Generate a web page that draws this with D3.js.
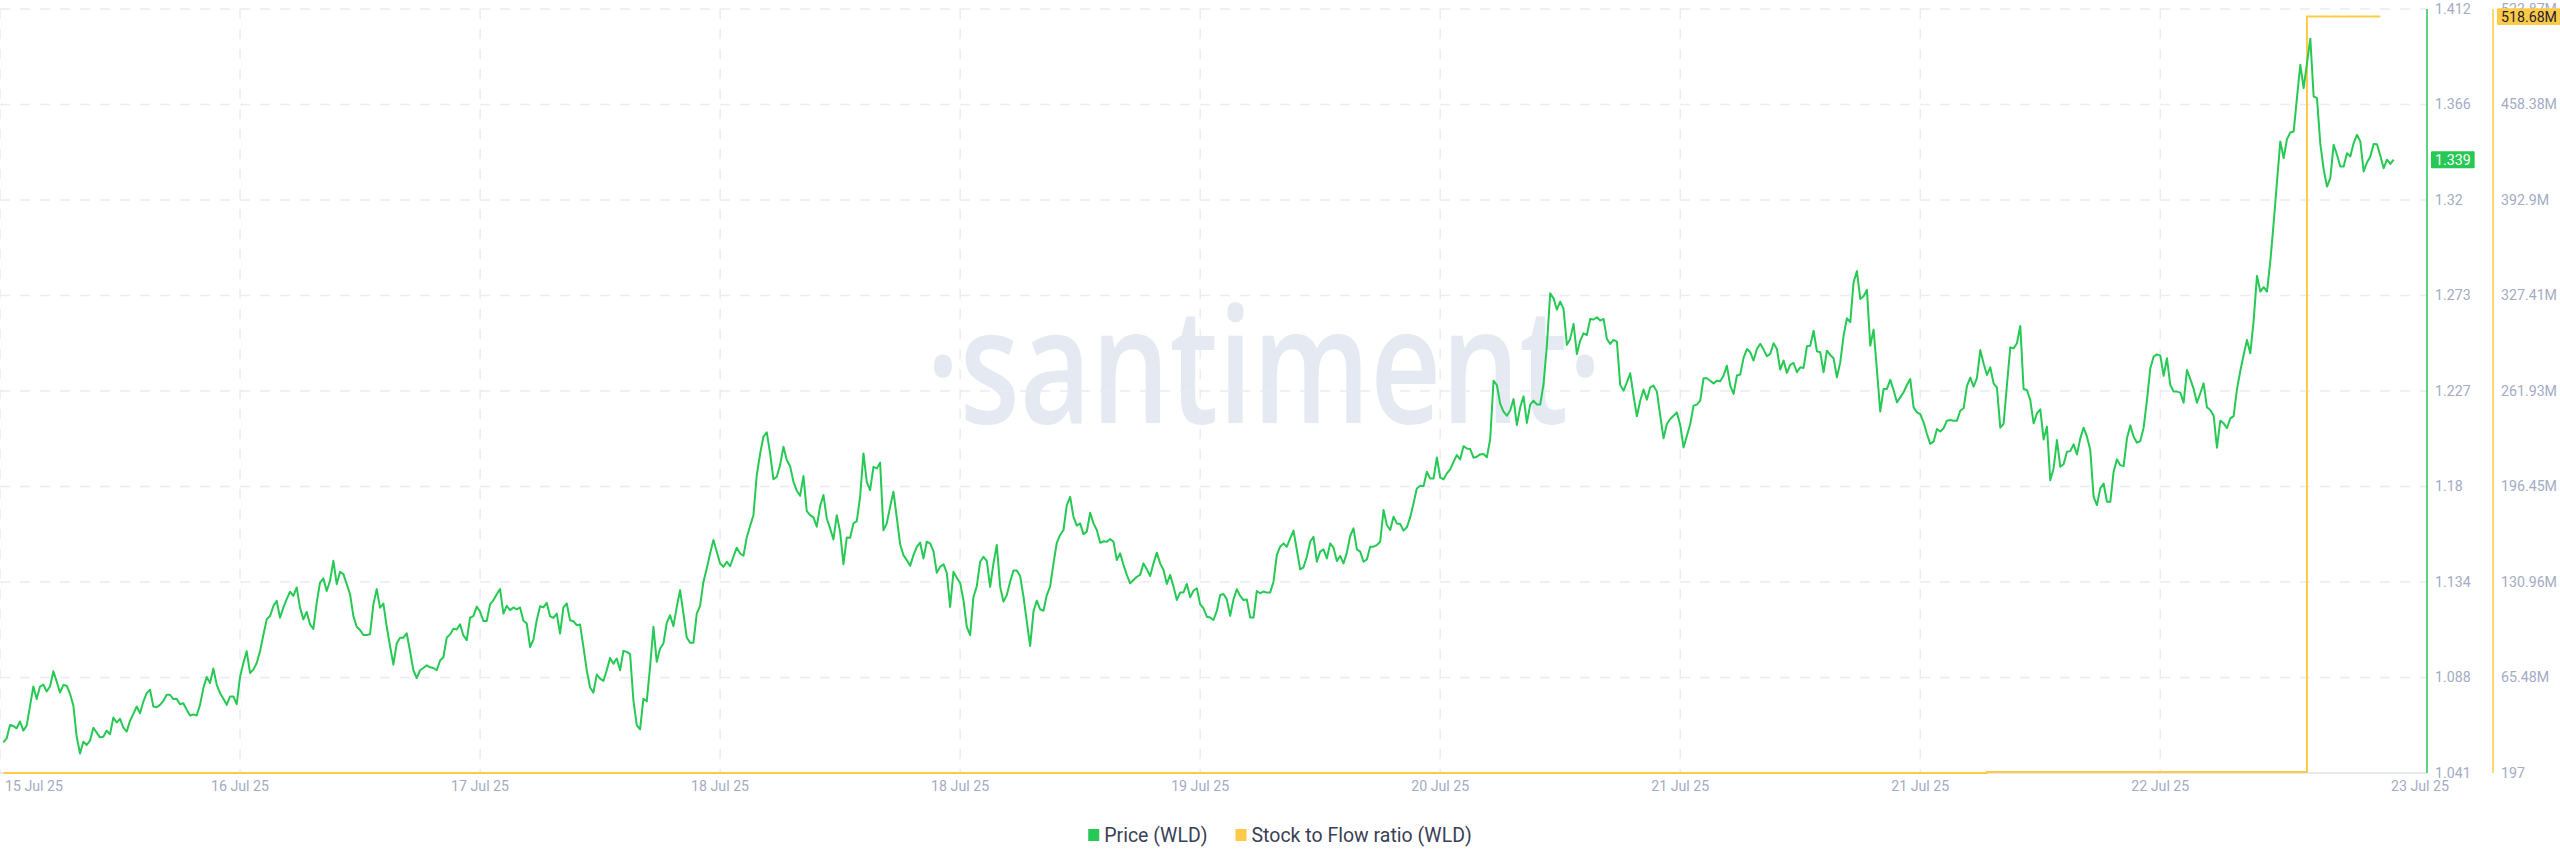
<!DOCTYPE html>
<html><head><meta charset="utf-8">
<script src="https://cdn.jsdelivr.net/npm/d3@7"></script>
<style>
html,body{margin:0;padding:0;background:#fff;overflow:hidden;}
svg{display:block;}
</style></head>
<body><svg id="chart" width="2560" height="867"></svg>
<script>
// ---------------- DATA ----------------
const priceStart = "2025-07-15T19:15:00Z";
const priceStepMinutes = 15;
const priceValues = [
1.0559,1.0578,1.0643,1.0638,1.0627,1.0660,1.0616,1.0640,1.0735,1.0830,
1.0769,1.0830,1.0839,1.0806,1.0830,1.0904,1.0855,1.0801,1.0837,1.0834,
1.0795,1.0738,1.0586,1.0505,1.0562,1.0546,1.0567,1.0630,1.0606,1.0583,
1.0586,1.0616,1.0598,1.0679,1.0655,1.0673,1.0630,1.0611,1.0663,1.0697,
1.0733,1.0700,1.0757,1.0798,1.0814,1.0733,1.0729,1.0741,1.0760,1.0790,
1.0790,1.0769,1.0770,1.0744,1.0749,1.0717,1.0689,1.0694,1.0689,1.0741,
1.0822,1.0876,1.0847,1.0917,1.0839,1.0798,1.0770,1.0741,1.0782,1.0782,
1.0744,1.0876,1.0944,1.1001,1.0896,1.0912,1.0944,1.1001,1.1080,1.1156,
1.1172,1.1221,1.1246,1.1164,1.1213,1.1254,1.1290,1.1270,1.1311,1.1213,
1.1156,1.1192,1.1132,1.1110,1.1237,1.1335,1.1355,1.1294,1.1343,1.1441,
1.1327,1.1387,1.1376,1.1327,1.1278,1.1172,1.1120,1.1104,1.1080,1.1080,
1.1084,1.1229,1.1303,1.1213,1.1233,1.1120,1.1026,1.0936,1.1039,1.1067,
1.1067,1.1088,1.1001,1.0909,1.0871,1.0909,1.0920,1.0933,1.0923,1.0920,
1.0909,1.0956,1.0972,1.1067,1.1083,1.1110,1.1107,1.1132,1.1078,1.1055,
1.1164,1.1172,1.1218,1.1194,1.1148,1.1148,1.1229,1.1249,1.1278,1.1303,
1.1184,1.1222,1.1201,1.1214,1.1205,1.1214,1.1149,1.1136,1.1022,1.1058,
1.1152,1.1220,1.1214,1.1236,1.1171,1.1163,1.1184,1.1087,1.1214,1.1233,
1.1152,1.1147,1.1128,1.1131,1.1022,1.0909,1.0825,1.0800,1.0888,1.0868,
1.0857,1.0909,1.0969,1.0941,1.0966,1.0909,1.1003,1.0998,1.0987,1.0763,
1.0642,1.0622,1.0771,1.0758,1.0925,1.1120,1.0950,1.1014,1.1039,1.1139,
1.1176,1.1123,1.1217,1.1298,1.1184,1.1068,1.1043,1.1043,1.1184,1.1222,
1.1338,1.1403,1.1476,1.1541,1.1484,1.1427,1.1411,1.1436,1.1414,1.1460,
1.1504,1.1476,1.1465,1.1554,1.1609,1.1662,1.1857,1.1960,1.2043,1.2064,
1.1962,1.1836,1.1849,1.1905,1.1994,1.1930,1.1900,1.1824,1.1781,1.1756,
1.1852,1.1682,1.1662,1.1651,1.1606,1.1706,1.1760,1.1646,1.1598,1.1544,
1.1662,1.1581,1.1424,1.1554,1.1552,1.1622,1.1633,1.1751,1.1962,1.1824,
1.1784,1.1897,1.1889,1.1917,1.1589,1.1622,1.1703,1.1776,1.1650,1.1521,
1.1468,1.1444,1.1416,1.1468,1.1508,1.1529,1.1452,1.1533,1.1525,1.1487,
1.1382,1.1411,1.1424,1.1382,1.1217,1.1387,1.1358,1.1333,1.1249,1.1120,
1.1079,1.1265,1.1317,1.1436,1.1460,1.1440,1.1314,
1.1428,1.1517,1.1315,1.1242,1.1274,1.1339,1.1393,1.1393,1.1367,1.1266,
1.1145,1.1027,1.1194,1.1247,1.1205,1.1198,1.1274,1.1315,1.1428,1.1528,
1.1566,1.1590,1.1711,1.1751,1.1654,1.1611,1.1622,1.1570,1.1582,1.1674,
1.1622,1.1590,1.1528,1.1535,1.1533,1.1546,1.1533,1.1444,1.1477,1.1420,
1.1372,1.1331,1.1347,1.1363,1.1372,1.1428,1.1399,1.1367,1.1428,1.1480,
1.1428,1.1396,1.1328,1.1372,1.1315,1.1250,1.1286,1.1287,1.1328,1.1263,
1.1295,1.1307,1.1229,1.1210,1.1169,1.1165,1.1153,1.1197,1.1274,1.1279,
1.1253,1.1173,1.1253,1.1302,1.1270,1.1250,1.1253,1.1165,1.1165,1.1294,
1.1283,1.1291,1.1286,1.1287,1.1339,1.1469,1.1509,1.1525,1.1509,1.1549,
1.1587,1.1493,1.1399,1.1409,1.1460,1.1533,1.1557,1.1436,1.1485,1.1496,
1.1452,1.1525,1.1504,1.1439,1.1464,1.1428,1.1480,1.1561,1.1598,1.1496,
1.1485,1.1436,1.1447,1.1509,1.1509,1.1517,1.1533,1.1687,1.1614,1.1590,
1.1654,1.1622,1.1619,1.1587,1.1603,1.1651,1.1720,1.1792,1.1805,1.1803,
1.1873,1.1840,1.1840,1.1942,1.1845,1.1836,1.1865,1.1884,1.1921,1.1954,
1.1933,1.1997,1.1986,1.1983,1.1941,1.1946,1.1957,
1.1959,1.1943,1.2032,1.2315,1.2294,1.2202,1.2165,1.2145,1.2170,1.2226,
1.2100,1.2186,1.2239,1.2110,1.2199,1.2218,1.2199,1.2199,1.2299,1.2485,
1.2740,1.2715,1.2660,1.2699,1.2664,1.2489,1.2518,1.2591,1.2445,1.2510,
1.2545,1.2537,1.2615,1.2612,1.2623,1.2607,1.2615,1.2518,1.2494,1.2513,
1.2505,1.2294,1.2267,1.2307,1.2351,1.2242,1.2142,1.2218,1.2272,1.2223,
1.2283,1.2291,1.2262,1.2145,1.2035,1.2105,1.2129,1.2145,1.2161,1.2100,
1.1991,1.2048,1.2105,1.2194,1.2199,1.2218,1.2327,1.2327,1.2315,1.2302,
1.2315,1.2312,1.2340,1.2388,1.2291,1.2251,1.2340,1.2345,1.2426,1.2469,
1.2453,1.2413,1.2469,1.2494,1.2466,1.2434,1.2445,1.2497,1.2469,1.2369,
1.2413,1.2353,1.2392,1.2401,1.2356,1.2380,1.2377,1.2482,1.2485,1.2558,
1.2458,1.2453,1.2356,1.2461,1.2440,1.2424,1.2332,1.2404,1.2534,1.2618,
1.2599,1.2793,1.2847,1.2712,1.2725,1.2756,1.2485,1.2563,1.2367,1.2165,
1.2275,1.2275,1.2319,1.2270,1.2210,1.2234,1.2259,1.2294,1.2323,1.2186,
1.2161,1.2153,1.2113,1.2056,1.2008,1.2019,1.2080,1.2068,1.2084,1.2121,
1.2124,
1.2121,1.2121,1.2169,1.2181,1.2289,1.2330,1.2286,1.2327,1.2464,1.2399,
1.2343,1.2380,1.2302,1.2281,1.2087,1.2105,1.2294,1.2477,1.2472,1.2497,
1.2581,1.2275,1.2270,1.2221,1.2108,1.2156,1.2176,1.2030,1.2092,1.1832,
1.1889,1.2027,1.1897,1.1909,1.1970,1.1973,1.2006,1.1957,1.2035,1.2087,
1.2043,1.1978,1.1751,1.1711,1.1792,1.1816,1.1727,1.1727,1.1873,1.1933,
1.1905,1.1900,1.2035,1.2098,1.2043,1.2014,1.2022,1.2087,1.2221,1.2375,
1.2432,1.2443,1.2437,1.2339,1.2424,1.2294,1.2262,1.2262,1.2257,1.2208,
1.2367,1.2323,1.2275,1.2208,1.2254,1.2302,1.2186,1.2173,1.2145,1.1990,
1.2121,1.2108,1.2084,1.2132,1.2143,1.2273,1.2362,1.2440,1.2513,1.2448,
1.2607,1.2824,1.2748,1.2769,1.2748,1.2894,1.3080,1.3280,1.3477,1.3396,
1.3488,1.3520,1.3525,1.3690,1.3849,1.3736,1.3857,1.3976,1.3695,1.3687,
1.3465,1.3342,1.3258,1.3299,1.3461,1.3412,1.3355,1.3355,1.3420,1.3404,
1.3469,1.3509,1.3477,1.3331,1.3375,1.3404,1.3465,1.3463,1.3407,1.3347,
1.3388,1.3368,1.3388
];

const sfDates = ["2025-07-15T19:15:00Z","2025-07-16T00:00:00Z","2025-07-17T00:00:00Z","2025-07-18T00:00:00Z",
  "2025-07-19T00:00:00Z","2025-07-20T00:00:00Z","2025-07-21T00:00:00Z","2025-07-22T00:00:00Z",
  "2025-07-23T00:00:00Z","2025-07-23T05:30:00Z"];
const sfValues = [197,197,197,197,197,197,197,700000,518680000,518680000];

const xDomain = ["2025-07-15T19:00:00Z","2025-07-23T09:00:00Z"];
const xTickDates = ["2025-07-15T19:00:00Z","2025-07-16T13:00:00Z","2025-07-17T07:00:00Z","2025-07-18T01:00:00Z",
  "2025-07-18T19:00:00Z","2025-07-19T13:00:00Z","2025-07-20T07:00:00Z","2025-07-21T01:00:00Z",
  "2025-07-21T19:00:00Z","2025-07-22T13:00:00Z","2025-07-23T09:00:00Z"];
const xTickLabels = ["15 Jul 25","16 Jul 25","17 Jul 25","18 Jul 25","18 Jul 25","19 Jul 25",
  "20 Jul 25","21 Jul 25","21 Jul 25","22 Jul 25","23 Jul 25"];

const priceDomain = [1.041, 1.412];
const priceTickLabels = ["1.041","1.088","1.134","1.18","1.227","1.273","1.32","1.366","1.412"];
const sfDomain = [197, 523866000];
const sfTickLabels = ["197","65.48M","130.96M","196.45M","261.93M","327.41M","392.9M","458.38M","523.87M"];

const seriesNames = ["Price (WLD)", "Stock to Flow ratio (WLD)"];
const seriesColors = ["#26c953", "#ffcb47"];
const lastPriceLabel = "1.339";
const lastSfLabel = "518.68M";

// ---------------- LAYOUT ----------------
const plot = {left: 0, right: 2427, top: 9, bottom: 773};
const sfAxisX = 2493;
const axisFont = "Roboto, 'Noto Sans', sans-serif";
const labelColor = "#a3abc4";
const gridColor = "#e9ecf4";
const axisFontSize = 14.2;

const parse = d3.isoParse;
const t0 = parse(priceStart);
const priceData = priceValues.map((v, i) => ({t: new Date(+t0 + i * priceStepMinutes * 60000), v}));
const sfData = sfDates.map((d, i) => ({t: parse(d), v: sfValues[i]}));

const x = d3.scaleUtc().domain(xDomain.map(parse)).range([plot.left, plot.right]);
const yP = d3.scaleLinear().domain(priceDomain).range([plot.bottom, plot.top]);
const yS = d3.scaleLinear().domain(sfDomain).range([plot.bottom, plot.top]);

const svg = d3.select("#chart");

// watermark
svg.append("text")
  .attr("x", 926).attr("y", 423)
  .attr("textLength", 676).attr("lengthAdjust", "spacingAndGlyphs")
  .attr("font-family", "'Open Sans', sans-serif").attr("font-size", 162).attr("font-weight", 600)
  .attr("fill", "#e5e9f2")
  .text("·santiment·");

// gridlines
const nT = priceTickLabels.length;
const pTickVals = d3.range(nT).map(k => priceDomain[0] + k * (priceDomain[1] - priceDomain[0]) / (nT - 1));
const sTickVals = d3.range(nT).map(k => sfDomain[0] + k * (sfDomain[1] - sfDomain[0]) / (nT - 1));

const grid = svg.append("g");
grid.selectAll("line.h").data(pTickVals.slice(1)).join("line")
  .attr("class", "h")
  .attr("x1", plot.left).attr("x2", plot.right)
  .attr("y1", d => yP(d)).attr("y2", d => yP(d))
  .attr("stroke", gridColor).attr("stroke-width", 1.5).attr("stroke-dasharray", "10,10");
const xTicks = xTickDates.map(parse);
grid.selectAll("line.v").data(xTicks.filter(d => x(d) < plot.right - 5)).join("line")
  .attr("class", "v")
  .attr("x1", d => x(d)).attr("x2", d => x(d))
  .attr("y1", plot.top).attr("y2", plot.bottom)
  .attr("stroke", gridColor).attr("stroke-width", 1.5).attr("stroke-dasharray", "10,10");

// bottom axis line
svg.append("line").attr("x1", plot.left).attr("x2", plot.right)
  .attr("y1", plot.bottom).attr("y2", plot.bottom)
  .attr("stroke", "#dfe3ee").attr("stroke-width", 1.5);

// SF line
svg.append("path").datum(sfData)
  .attr("fill", "none").attr("stroke", seriesColors[1]).attr("stroke-width", 2)
  .attr("d", d3.line().curve(d3.curveStepAfter).x(d => x(d.t)).y(d => yS(d.v)));

// price line
svg.append("path").datum(priceData)
  .attr("fill", "none").attr("stroke", seriesColors[0]).attr("stroke-width", 2)
  .attr("stroke-linejoin", "round")
  .attr("d", d3.line().x(d => x(d.t)).y(d => yP(d.v)));

// axis lines
svg.append("line").attr("x1", plot.right).attr("x2", plot.right).attr("y1", plot.top).attr("y2", plot.bottom)
  .attr("stroke", seriesColors[0]).attr("stroke-width", 1.5);
svg.append("line").attr("x1", sfAxisX).attr("x2", sfAxisX).attr("y1", plot.top).attr("y2", plot.bottom)
  .attr("stroke", seriesColors[1]).attr("stroke-width", 1.5);

// y labels
svg.append("g").selectAll("text").data(pTickVals).join("text")
  .attr("x", plot.right + 8).attr("y", d => yP(d)).attr("dy", "0.35em")
  .attr("font-family", axisFont).attr("font-size", axisFontSize).attr("fill", labelColor)
  .text((d, i) => priceTickLabels[i]);
svg.append("g").selectAll("text").data(sTickVals).join("text")
  .attr("x", sfAxisX + 8).attr("y", d => yS(d)).attr("dy", "0.35em")
  .attr("font-family", axisFont).attr("font-size", axisFontSize).attr("fill", labelColor)
  .text((d, i) => sfTickLabels[i]);

// x labels
svg.append("g").selectAll("text").data(xTicks).join("text")
  .attr("x", d => Math.max(34, Math.min(2420, x(d)))).attr("y", 791)
  .attr("text-anchor", "middle")
  .attr("font-family", axisFont).attr("font-size", axisFontSize).attr("fill", labelColor)
  .text((d, i) => xTickLabels[i]);

// badges
function badge(xLeft, yCenter, label, fill, textFill, minW) {
  const g = svg.append("g");
  const r = g.append("rect").attr("fill", fill);
  const t = g.append("text").attr("y", yCenter).attr("dy", "0.36em")
    .attr("font-family", axisFont).attr("font-size", axisFontSize).attr("fill", textFill).text(label);
  const w = Math.max(minW, t.node().getComputedTextLength() + 8);
  r.attr("x", xLeft).attr("y", yCenter - 8.4).attr("width", w).attr("height", 16.8).attr("rx", 1);
  t.attr("x", xLeft + w / 2).attr("text-anchor", "middle");
}
badge(plot.right + 4, yP(priceData[priceData.length - 1].v), lastPriceLabel, seriesColors[0], "#ffffff", 41);
badge(sfAxisX + 4, yS(sfData[sfData.length - 1].v), lastSfLabel, seriesColors[1], "#1d2035", 60);

// legend
const leg = svg.append("g");
let cx = 0;
seriesNames.forEach((name, i) => {
  const g = leg.append("g");
  g.append("rect").attr("x", 0).attr("y", -6).attr("width", 11).attr("height", 12).attr("fill", seriesColors[i]);
  const t = g.append("text").attr("x", 16).attr("y", 0).attr("dy", "0.35em")
    .attr("font-family", axisFont).attr("font-size", 19.5).attr("fill", "#3a3f56").text(name);
  const w = 16 + t.node().getComputedTextLength();
  g.attr("transform", `translate(${cx},0)`);
  cx += w + 28;
});
const legW = cx - 28;
leg.attr("transform", `translate(${1280 - legW / 2},835)`);
</script>
</body></html>
